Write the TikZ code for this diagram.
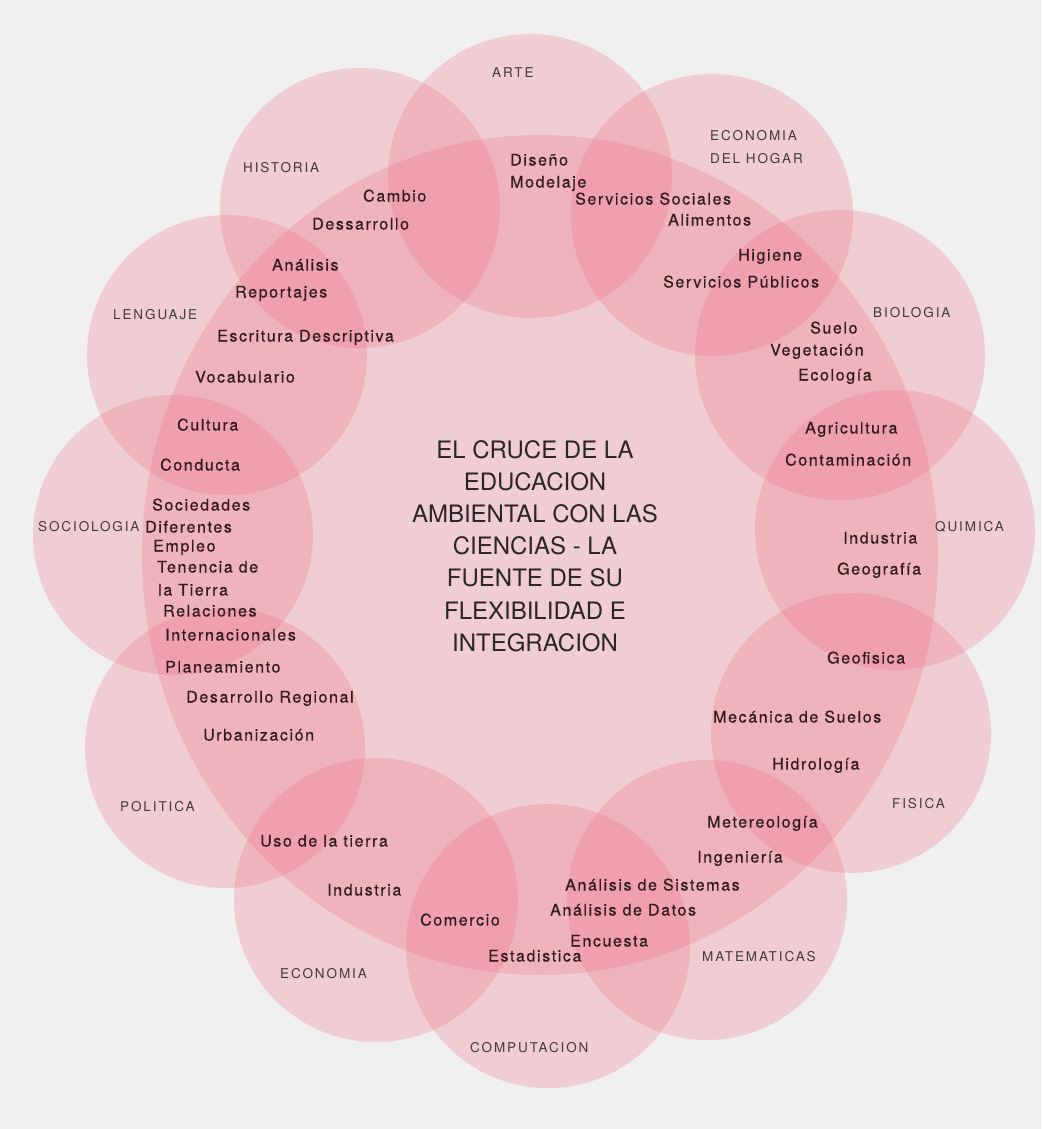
\documentclass[tikz,border=0pt]{standalone}
\usepackage{fontspec}
\setmainfont{TeX Gyre Heros}
\newfontfamily\subjfont[LetterSpace=14]{TeX Gyre Heros}
\newfontfamily\topicfont[LetterSpace=10,FakeBold=0.6]{TeX Gyre Heros}
\newfontfamily\titlefont{TeX Gyre Heros}
\definecolor{bgc}{RGB}{239,240,239}
\definecolor{pinkc}{RGB}{242,112,132}
\definecolor{txtc}{RGB}{50,28,30}
\definecolor{subjc}{RGB}{66,58,60}
\definecolor{titlec}{RGB}{42,38,40}
\begin{document}
\begin{tikzpicture}[x=1pt,y=-1pt,
  disc/.style={fill=pinkc,fill opacity=0.27,draw=none},
  subj/.style={font=\subjfont\fontsize{13.5}{15}\selectfont,text=subjc,inner sep=0pt,anchor=west,text height=0.7em,text depth=0pt},
  topic/.style={font=\topicfont\fontsize{16}{18}\selectfont,text=txtc,inner sep=0pt,anchor=west,text height=0.7em,text depth=0pt},
  ttl/.style={font=\titlefont\fontsize{24}{28}\selectfont,text=titlec,inner sep=0pt,anchor=center,text height=0.7em,text depth=0pt}]
\useasboundingbox (0,0) rectangle (1041,1129);
\fill[bgc] (0,0) rectangle (1041,1129);
% central disc
\fill[disc] (540,555) ellipse[x radius=398pt,y radius=420pt];
% subject discs
\fill[disc] (530,176) circle[radius=142pt];
\fill[disc] (712,215) circle[radius=141pt];
\fill[disc] (840,355) circle[radius=145pt];
\fill[disc] (895,530) circle[radius=140pt];
\fill[disc] (851,733) circle[radius=140pt];
\fill[disc] (707,900) circle[radius=140pt];
\fill[disc] (548,946) circle[radius=142pt];
\fill[disc] (376,900) circle[radius=142pt];
\fill[disc] (225,748) circle[radius=140pt];
\fill[disc] (173,535) circle[radius=140pt];
\fill[disc] (227,355) circle[radius=140pt];
\fill[disc] (360,208) circle[radius=140pt];
% subject labels
\node[subj] (arte) at (492,74) {ARTE};
\node[subj] (hist) at (243,169) {HISTORIA};
\node[subj] (ecoh1) at (710,137) {ECONOMIA};
\node[subj] (ecoh2) at (710,160) {DEL HOGAR};
\node[subj] (bio) at (873,314) {BIOLOGIA};
\node[subj] (leng) at (113,316) {LENGUAJE};
\node[subj] (soc) at (38,528) {SOCIOLOGIA};
\node[subj] (qui) at (935,528) {QUIMICA};
\node[subj] (pol) at (120,808) {POLITICA};
\node[subj] (fis) at (892,805) {FISICA};
\node[subj] (mat) at (702,958) {MATEMATICAS};
\node[subj] (eco) at (280,975) {ECONOMIA};
\node[subj] (comp) at (470,1049) {COMPUTACION};
% topic words
\node[topic] (t1) at (510,162) {Diseño};
\node[topic] (t2) at (510,184) {Modelaje};
\node[topic] (t3) at (363,198) {Cambio};
\node[topic] (t4) at (312,226) {Dessarrollo};
\node[topic] (t5) at (575,201) {Servicios Sociales};
\node[topic] (t6) at (668,222) {Alimentos};
\node[topic] (t7) at (738,257) {Higiene};
\node[topic] (t8) at (663,284) {Servicios Públicos};
\node[topic] (t9) at (272,267) {Análisis};
\node[topic] (t10) at (235,294) {Reportajes};
\node[topic] (t11) at (217,338) {Escritura Descriptiva};
\node[topic] (t12) at (810,330) {Suelo};
\node[topic] (t13) at (770,352) {Vegetación};
\node[topic] (t14) at (798,377) {Ecología};
\node[topic] (t15) at (195,379) {Vocabulario};
\node[topic] (t16) at (177,427) {Cultura};
\node[topic] (t17) at (805,430) {Agricultura};
\node[topic] (t18) at (160,467) {Conducta};
\node[topic] (t19) at (785,462) {Contaminación};
\node[topic] (t20) at (152,507) {Sociedades};
\node[topic] (t21) at (145,529) {Diferentes};
\node[topic] (t22) at (153,548) {Empleo};
\node[topic] (t23) at (843,540) {Industria};
\node[topic] (t24) at (837,571) {Geografía};
\node[topic] (t25) at (157,569) {Tenencia de};
\node[topic] (t26) at (158,592) {la Tierra};
\node[topic] (t27) at (163,613) {Relaciones};
\node[topic] (t28) at (165,637) {Internacionales};
\node[topic] (t29) at (165,669) {Planeamiento};
\node[topic] (t30) at (827,660) {Geofisica};
\node[topic] (t31) at (186,699) {Desarrollo Regional};
\node[topic] (t32) at (713,719) {Mecánica de Suelos};
\node[topic] (t33) at (203,737) {Urbanización};
\node[topic] (t34) at (772,766) {Hidrología};
\node[topic] (t35) at (707,824) {Metereología};
\node[topic] (t36) at (260,843) {Uso de la tierra};
\node[topic] (t37) at (697,859) {Ingeniería};
\node[topic] (t38) at (565,887) {Análisis de Sistemas};
\node[topic] (t39) at (327,892) {Industria};
\node[topic] (t40) at (550,912) {Análisis de Datos};
\node[topic] (t41) at (420,922) {Comercio};
\node[topic] (t42) at (570,943) {Encuesta};
\node[topic] (t43) at (488,958) {Estadistica};
% title
\node[ttl] (l1) at (535,455) {EL CRUCE DE LA};
\node[ttl] (l2) at (535,487) {EDUCACION};
\node[ttl] (l3) at (535,519) {AMBIENTAL CON LAS};
\node[ttl] (l4) at (535,551) {CIENCIAS - LA};
\node[ttl] (l5) at (535,583) {FUENTE DE SU};
\node[ttl] (l6) at (535,616) {FLEXIBILIDAD E};
\node[ttl] (l7) at (535,648) {INTEGRACION};
\end{tikzpicture}
\end{document}
